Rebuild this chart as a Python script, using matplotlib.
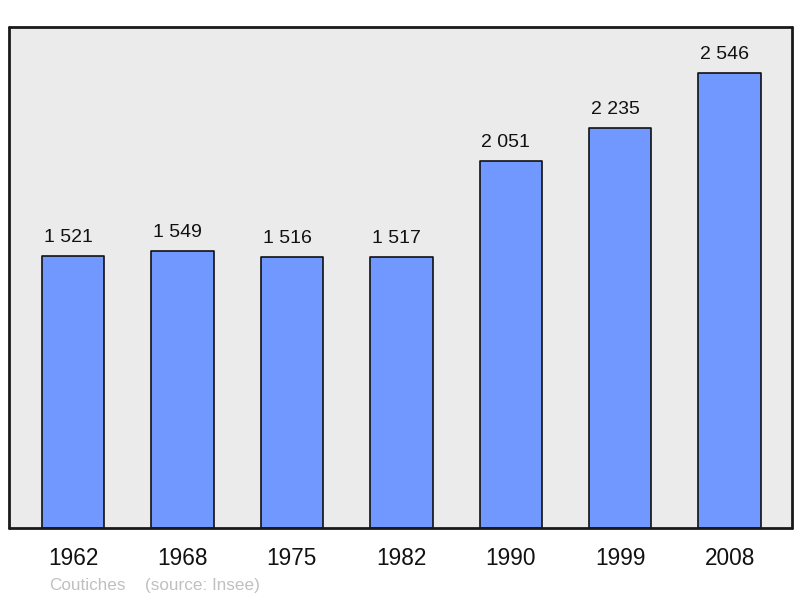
import matplotlib.pyplot as plt

years = ['1962', '1968', '1975', '1982', '1990', '1999', '2008']
population = [1521, 1549, 1516, 1517, 2051, 2235, 2546]
labels = ['1 521', '1 549', '1 516', '1 517', '2 051', '2 235', '2 546']

plt.rcParams['font.family'] = ['Liberation Sans', 'DejaVu Sans']

fig = plt.figure(figsize=(8, 5.98), dpi=100)
ax = fig.add_axes([9 / 800, 1 - 528 / 598, 783 / 800, 501 / 598])
ax.set_facecolor('#ebebeb')

x = list(range(len(years)))
bars = ax.bar(x, population, width=0.57, color='#7098ff', edgecolor='#111111',
              linewidth=1.2, zorder=2)
for b in bars:
    b.set_joinstyle('round')

# les etiquettes sont un peu decalees vers la gauche dans l'original
for xi, v, lab in zip(x, population, labels):
    ax.annotate(lab, (xi, v), xytext=(-3.5, 10), textcoords='offset points',
                ha='center', va='baseline', fontsize=14, color='#111111')

ax.set_xlim(-0.585, 6.57)
ax.set_ylim(0, max(population) * 1.1)
ax.set_yticks([])
ax.set_xticks(x)
ax.set_xticklabels(years, fontsize=16.3, color='#111111')
ax.tick_params(axis='x', length=0, pad=14)

for s in ax.spines.values():
    s.set_linewidth(2)
    s.set_color('#1a1a1a')
    s.set_joinstyle('round')
    s.set_capstyle('round')

fig.text(49 / 800, 1 - 590 / 598, 'Coutiches', fontsize=12.3, color='#c0c0c0',
         va='baseline', ha='left')
fig.text(145 / 800, 1 - 590 / 598, '(source: Insee)', fontsize=12.3, color='#c0c0c0',
         va='baseline', ha='left')

fig.savefig('out.png', dpi=100)
